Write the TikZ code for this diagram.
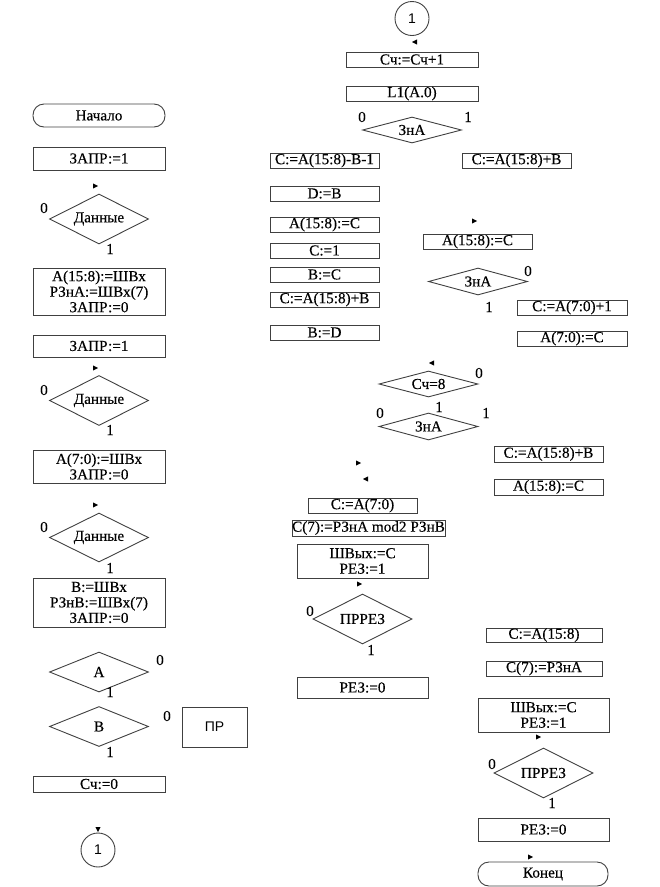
\documentclass[tikz,border=0pt]{standalone}
\usepackage{fontspec}
\setmainfont{Liberation Serif}[FakeBold=0.3]
\newfontfamily\sansf{Liberation Sans}
\usetikzlibrary{shapes.geometric}

\begin{document}
\begin{tikzpicture}[x=1pt,y=-1pt,font=\fontsize{15.2}{15.5}\selectfont,
  blk/.style={draw=black!75,line width=0.9pt,rectangle,inner sep=0pt,align=center,minimum width=#1,minimum height=15pt},
  blk/.default=109pt,
  term/.style={draw=black!75,line width=0.9pt,rectangle,rounded corners=11pt,inner sep=0pt,minimum width=#1,minimum height=23pt},
  dec/.style={draw=black!75,line width=0.9pt,diamond,aspect=3,inner sep=0pt,minimum width=99pt,minimum height=#1},
  dec/.default=50pt,
  conn/.style={draw=black!75,line width=0.9pt,circle,inner sep=0pt,minimum size=34pt,font=\sansf\fontsize{14}{14}\selectfont},
  lbl/.style={inner sep=0pt},
  tri/.pic={\fill (-2,-2.6)--(3,0)--(-2,2.6)--cycle;}]
\useasboundingbox (0,0) rectangle (660,887);
% left column
\node[term=132pt] (start) at (99,115.5) {Начало};
\node[blk=132pt,minimum height=23pt] (zapr1) at (99,158.5) {ЗАПР:=1};
\node[dec] (dat1) at (99,219) {Данные};
\node[blk=132pt,minimum height=47pt] (inA1) at (99,291.5) {A(15:8):=ШВх\\РЗнА:=ШВх(7)\\ЗАПР:=0};
\node[blk=132pt,minimum height=22pt] (zapr2) at (99,346) {ЗАПР:=1};
\node[dec] (dat2) at (99,400.5) {Данные};
\node[blk=132pt,minimum height=33pt] (inA2) at (99,466.5) {A(7:0):=ШВх\\ЗАПР:=0};
\node[dec=49pt] (dat3) at (99,537.5) {Данные};
\node[blk=132pt,minimum height=49pt] (inB) at (99,602.5) {B:=ШВх\\РЗнВ:=ШВх(7)\\ЗАПР:=0};
\node[dec=40pt] (decA) at (99,672) {A};
\node[dec=40pt] (decB) at (99,726.5) {B};
\node[blk=65pt,minimum height=40pt,font=\sansf\fontsize{14}{14}\selectfont] (pr) at (214.5,727) {ПР};
\node[blk=132pt,minimum height=16pt] (cnt0) at (99,784) {Сч:=0};
\node[conn] (con1) at (98,850) {1};
% middle and right
\node[conn] (con2) at (412,18.5) {1};
\node[blk=132pt] (inc) at (412,59.5) {Сч:=Сч+1};
\node[blk=132pt] (shl) at (412,93.5) {L1(A.0)};
\node[dec=26pt] (znA1) at (412,130) {ЗнА};
\node[blk] (sub1) at (324.5,160.5) {C:=A(15:8)-B-1};
\node[blk] (add1) at (516.5,160.5) {C:=A(15:8)+B};
\node[blk] (dB) at (324.5,193.5) {D:=B};
\node[blk] (stA1) at (324.5,224.5) {A(15:8):=C};
\node[blk] (c1) at (324.5,250.5) {C:=1};
\node[blk] (bc) at (324.5,274.5) {B:=C};
\node[blk] (add2) at (324.5,299.5) {C:=A(15:8)+B};
\node[blk] (bd) at (324.5,332.5) {B:=D};
\node[blk] (stA2) at (477.5,241.5) {A(15:8):=C};
\node[dec=27pt] (znA2) at (478,281.5) {ЗнА};
\node[blk=110pt] (inc7) at (572,307.5) {C:=A(7:0)+1};
\node[blk=110pt] (st70) at (572,338.5) {A(7:0):=C};
\node[dec=26pt] (cnt8) at (428.5,384) {Сч=8};
\node[dec=27pt] (znA3) at (428.5,426.5) {ЗнА};
\node[blk,minimum height=16pt] (add3) at (548.5,454) {C:=A(15:8)+B};
\node[blk,minimum height=16pt] (stA3) at (548.5,487) {A(15:8):=C};
\node[blk] (c70) at (362.5,505.5) {C:=A(7:0)};
\node[blk=153pt,minimum height=16pt] (c7x) at (368.5,528) {C(7):=РЗнА mod2 РЗнВ};
\node[blk=131pt,minimum height=34pt] (out1) at (362.5,561) {ШВых:=С\\РЕЗ:=1};
\node[dec] (prr1) at (362.5,619) {ПРРЕЗ};
\node[blk=131pt,minimum height=21pt] (rez1) at (362.5,687.5) {РЕЗ:=0};
\node[blk=116pt,minimum height=14pt] (c158) at (544,635) {C:=A(15:8)};
\node[blk=116pt] (c7a) at (544,668.5) {C(7):=РЗнА};
\node[blk=131pt,minimum height=34pt] (out2) at (543.5,715) {ШВых:=С\\РЕЗ:=1};
\node[dec] (prr2) at (543.5,773) {ПРРЕЗ};
\node[blk=131pt,minimum height=23pt] (rez2) at (543.5,829.5) {РЕЗ:=0};
\node[term=130pt,minimum height=24pt] (stop) at (543,874) {Конец};
% branch labels
\node[lbl] (l01) at (44,208) {0};  \node[lbl] (l11) at (110,249) {1};
\node[lbl] (l02) at (44,390) {0};  \node[lbl] (l12) at (110,430) {1};
\node[lbl] (l03) at (44,527) {0};  \node[lbl] (l13) at (110,568) {1};
\node[lbl] (l04) at (160,660) {0}; \node[lbl] (l14) at (110,692) {1};
\node[lbl] (l05) at (167,716) {0}; \node[lbl] (l15) at (110,752) {1};
\node[lbl] (l06) at (362,117) {0}; \node[lbl] (l16) at (468,117) {1};
\node[lbl] (l07) at (528,271) {0}; \node[lbl] (l17) at (489,307) {1};
\node[lbl] (l08) at (479,373) {0}; \node[lbl] (l18) at (439,407) {1};
\node[lbl] (l09) at (380,413) {0}; \node[lbl] (l19) at (486,413) {1};
\node[lbl] (l10) at (310,611) {0}; \node[lbl] (l20) at (371,650) {1};
\node[lbl] (l21) at (492,764) {0}; \node[lbl] (l22) at (552,803) {1};
% stray arrow heads
\pic at (95,186) {tri}; \pic at (95,368) {tri}; \pic at (95,505) {tri};
\pic[rotate=-90] at (98,829) {tri};
\pic[rotate=180] at (415,42) {tri}; \pic at (474,221) {tri};
\pic[rotate=180] at (432,363) {tri}; \pic at (358,463) {tri};
\pic[rotate=180] at (366,479) {tri}; \pic at (359,584) {tri};
\pic at (538,737) {tri}; \pic at (530,857) {tri};
\end{tikzpicture}
\end{document}
